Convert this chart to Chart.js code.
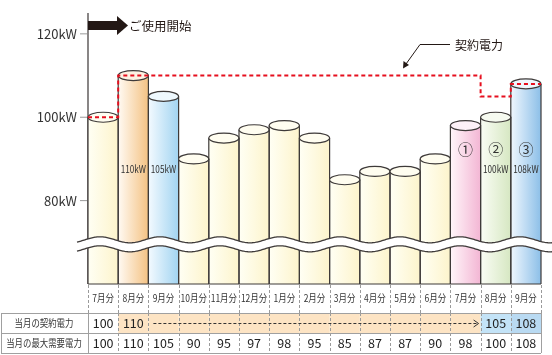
<!DOCTYPE html>
<html><head><meta charset="utf-8">
<script src="https://cdn.jsdelivr.net/npm/chart.js@4/dist/chart.umd.min.js"></script>
<style>html,body{margin:0;padding:0;background:#fff;}#wrap{width:552px;height:355px;}</style>
</head><body><div id="wrap"><canvas id="c" width="552" height="355"></canvas></div>
<script>
// ---- data ----
const months = ['7月分','8月分','9月分','10月分','11月分','12月分','1月分','2月分','3月分','4月分','5月分','6月分','7月分','8月分','9月分'];
const maxDemand = [100,110,105,90,95,97,98,95,85,87,87,90,98,100,108];
const contractPower = [100,110,110,110,110,110,110,110,110,110,110,110,110,105,108];
const contractShown = ['100','110','','','','','','','','','','','','105','108'];
const yTickValues = [80,100,120];
const yTickLabels = ['80kW','100kW','120kW'];
const barTextLabels = ['','110kW','105kW','','','','','','','','','','','100kW','108kW'];
const barMarkers = ['','','','','','','','','','','','','①','②','③'];
const rowLabels = ['当月の契約電力','当月の最大需要電力'];

// ---- styles ----
const barKinds = ['cream','orange','blue','cream','cream','cream','cream','cream','cream','cream','cream','cream','pink','green','blue2'];
const palette = {
  cream: ['#fffff4','#fdf4cc','#fffdf0'],
  orange:['#fffaf3','#f4c283','#fdf1e2'],
  blue:  ['#f3faff','#a2d4f1','#eef8fd'],
  pink:  ['#fff6fa','#f3b6d4','#fdf1f7'],
  green: ['#fafdf5','#d6e7c2','#f6faf0'],
  blue2: ['#f0f7fe','#8cbfe8','#eef6fd']
};
const INK = '#3e3a39';
const JP = '"Noto Sans CJK JP", "Noto Sans", sans-serif';

function txt(ctx, s, x, y, size, sx, align, color){
  ctx.save();
  ctx.font = size + 'px ' + JP;
  ctx.fillStyle = color || '#333';
  ctx.textBaseline = 'middle';
  ctx.translate(x, y);
  ctx.scale(sx, 1);
  ctx.textAlign = align || 'center';
  ctx.fillText(s, 0, 0);
  ctx.restore();
}

const deco = {
  id: 'deco',
  beforeDatasetsDraw(chart){
    const ctx = chart.ctx, ys = chart.scales.y, a = chart.chartArea;
    ctx.save();
    ctx.strokeStyle = '#4a4444'; ctx.lineWidth = 1.3;
    ctx.beginPath(); ctx.moveTo(a.left, a.top); ctx.lineTo(a.left, a.bottom); ctx.stroke();
    yTickValues.forEach((v,i)=>{
      const y = ys.getPixelForValue(v);
      ctx.strokeStyle = '#999'; ctx.lineWidth = 1;
      ctx.beginPath(); ctx.moveTo(a.left-8, y); ctx.lineTo(a.left-1, y); ctx.stroke();
      txt(ctx, yTickLabels[i], a.left-11, y, 13, 1, 'right', '#333');
    });
    ctx.restore();
  },
  afterDatasetsDraw(chart){
    const ctx = chart.ctx, ys = chart.scales.y, xs = chart.scales.x, a = chart.chartArea;
    const meta = chart.getDatasetMeta(0);
    const bw = xs.getPixelForValue(1) - xs.getPixelForValue(0);
    ctx.save();
    meta.data.forEach((el,i)=>{
      const l = el.x - bw/2, r = el.x + bw/2;
      ctx.strokeStyle = INK; ctx.lineWidth = 1.2;
      ctx.beginPath();
      ctx.moveTo(l, el.y); ctx.lineTo(l, a.bottom);
      ctx.moveTo(r, el.y); ctx.lineTo(r, a.bottom);
      ctx.stroke();
      ctx.beginPath();
      ctx.ellipse(el.x, el.y, bw/2, 5, 0, 0, Math.PI*2);
      ctx.fillStyle = palette[barKinds[i]][2];
      ctx.fill(); ctx.stroke();
    });
    ctx.strokeStyle = INK; ctx.lineWidth = 1.2;
    ctx.beginPath(); ctx.moveTo(a.left, a.bottom); ctx.lineTo(a.right, a.bottom); ctx.stroke();

    meta.data.forEach((el,i)=>{
      if (barMarkers[i]) txt(ctx, barMarkers[i], el.x, ys.getPixelForValue(92.4), 15, 1, 'center', '#333');
      if (barTextLabels[i]) txt(ctx, barTextLabels[i], el.x, ys.getPixelForValue(87.6), 10.5, 0.78, 'center', '#333');
    });

    // wave break
    const yc = ys.getPixelForValue(70.6);
    const wy = x => yc - 3*Math.cos(2*Math.PI*(x-100)/60);
    const gap = 9, x0 = 77, x1 = 552;
    ctx.beginPath();
    for (let x=x0; x<=x1; x++) { const y = wy(x); x===x0 ? ctx.moveTo(x,y) : ctx.lineTo(x,y); }
    for (let x=x1; x>=x0; x--) ctx.lineTo(x, wy(x)+gap);
    ctx.closePath(); ctx.fillStyle = '#fff'; ctx.fill();
    ctx.strokeStyle = INK; ctx.lineWidth = 1.3;
    for (const off of [0,gap]) {
      ctx.beginPath();
      for (let x=x0; x<=x1; x++) { const y = wy(x)+off; x===x0 ? ctx.moveTo(x,y) : ctx.lineTo(x,y); }
      ctx.stroke();
    }

    // contract power red dashed step line
    ctx.beginPath();
    contractPower.forEach((v,i)=>{
      const c = xs.getPixelForValue(i), y = ys.getPixelForValue(v);
      if (i===0) ctx.moveTo(c-bw/2, y); else ctx.lineTo(c-bw/2, y);
      ctx.lineTo(c+bw/2, y);
    });
    ctx.strokeStyle = '#e60f1e'; ctx.lineWidth = 2; ctx.setLineDash([4,3]);
    ctx.stroke(); ctx.setLineDash([]);

    // "ご使用開始" arrow
    ctx.fillStyle = '#231815';
    ctx.fillRect(a.left, 21, 29, 9);
    ctx.beginPath(); ctx.moveTo(a.left+29,16); ctx.lineTo(a.left+40,25.5); ctx.lineTo(a.left+29,35); ctx.closePath(); ctx.fill();
    txt(ctx, 'ご使用開始', a.left+41, 26, 12.5, 1, 'left', '#231815');

    // "契約電力" leader
    txt(ctx, '契約電力', 455, 45, 12, 1, 'left', '#231815');
    ctx.strokeStyle = '#231815'; ctx.lineWidth = 1;
    ctx.beginPath(); ctx.moveTo(450,44.5); ctx.lineTo(420,44.5); ctx.lineTo(406,64); ctx.stroke();
    ctx.fillStyle = '#231815';
    ctx.beginPath(); ctx.moveTo(403,68.5); ctx.lineTo(403.5,61); ctx.lineTo(409,65); ctx.closePath(); ctx.fill();

    // ---- table ----
    const tTop = 313, tMid = 333, tBot = 353, hdrY = 298;
    const L = i => xs.getPixelForValue(i) - bw/2, R = i => xs.getPixelForValue(i) + bw/2;
    contractShown.forEach((s,i)=>{
      if (i===0) return;
      ctx.fillStyle = (i>=13) ? (i===14 ? '#b9daf2' : '#c3e3f7') : '#fde4c4';
      ctx.fillRect(L(i), tTop, bw, tMid - tTop);
    });
    ctx.strokeStyle = '#9a9a9a'; ctx.lineWidth = 1; ctx.setLineDash([3,2]);
    for (let i=0; i<=months.length; i++){
      const x = Math.round(i<months.length ? L(i) : R(i-1)) + 0.5;
      ctx.beginPath(); ctx.moveTo(x, a.bottom+1); ctx.lineTo(x, tTop); ctx.stroke();
    }
    for (let i=1; i<months.length; i++){
      const x = Math.round(L(i)) + 0.5;
      ctx.beginPath(); ctx.moveTo(x, tTop); ctx.lineTo(x, tBot); ctx.stroke();
    }
    ctx.setLineDash([]);
    ctx.strokeStyle = '#a0a0a0';
    ctx.beginPath();
    [tTop, tMid, tBot].forEach(y=>{ ctx.moveTo(1, y+0.5); ctx.lineTo(R(months.length-1), y+0.5); });
    ctx.moveTo(1.5, tTop); ctx.lineTo(1.5, tBot);
    ctx.moveTo(Math.round(L(0))+0.5, tTop); ctx.lineTo(Math.round(L(0))+0.5, tBot);
    ctx.moveTo(Math.round(R(months.length-1))+0.5, tTop); ctx.lineTo(Math.round(R(months.length-1))+0.5, tBot);
    ctx.stroke();
    months.forEach((m,i)=> txt(ctx, m, xs.getPixelForValue(i), hdrY, 10, 0.85, 'center', '#333'));
    txt(ctx, rowLabels[0], 44, (tTop+tMid)/2, 10.5, 0.8, 'center', '#333');
    txt(ctx, rowLabels[1], 44, (tMid+tBot)/2, 10.5, 0.8, 'center', '#333');
    contractShown.forEach((s,i)=>{ if (s) txt(ctx, s, xs.getPixelForValue(i), (tTop+tMid)/2+0.5, 12.5, 1, 'center', '#222'); });
    const ay = (tTop+tMid)/2 + 0.5;
    const ax0 = L(2)+5, ax1 = R(12)-2;
    ctx.strokeStyle = '#333'; ctx.lineWidth = 1; ctx.setLineDash([3,2]);
    ctx.beginPath(); ctx.moveTo(ax0, ay); ctx.lineTo(ax1-2, ay); ctx.stroke(); ctx.setLineDash([]);
    ctx.beginPath(); ctx.moveTo(ax1-5, ay-3.5); ctx.lineTo(ax1, ay); ctx.lineTo(ax1-5, ay+3.5); ctx.stroke();
    maxDemand.forEach((v,i)=> txt(ctx, String(v), xs.getPixelForValue(i), (tMid+tBot)/2+0.5, 12.5, 1, 'center', '#222'));
    ctx.restore();
  }
};

new Chart(document.getElementById('c'), {
  type: 'bar',
  data: {
    labels: months,
    datasets: [{
      data: maxDemand,
      borderWidth: 0,
      categoryPercentage: 1,
      barPercentage: 1,
      backgroundColor: (c) => {
        const ch = c.chart;
        const kind = palette[barKinds[c.dataIndex] || 'cream'];
        if (!ch.chartArea || !ch.scales.x || c.dataIndex === undefined) return kind[1];
        const xs = ch.scales.x;
        const bw = xs.getPixelForValue(1) - xs.getPixelForValue(0);
        const cx = xs.getPixelForValue(c.dataIndex);
        const g = ch.ctx.createLinearGradient(cx - bw/2, 0, cx + bw/2, 0);
        g.addColorStop(0, kind[0]);
        g.addColorStop(1, kind[1]);
        return g;
      }
    }]
  },
  options: {
    responsive: false,
    animation: false,
    events: [],
    layout: { padding: { left: 88, right: 11, top: 13, bottom: 71 } },
    scales: {
      x: { display: false, offset: true },
      y: { display: false, min: 60, max: 125 }
    },
    plugins: { legend: { display: false }, tooltip: { enabled: false } }
  },
  plugins: [deco]
});
</script>
</body></html>
